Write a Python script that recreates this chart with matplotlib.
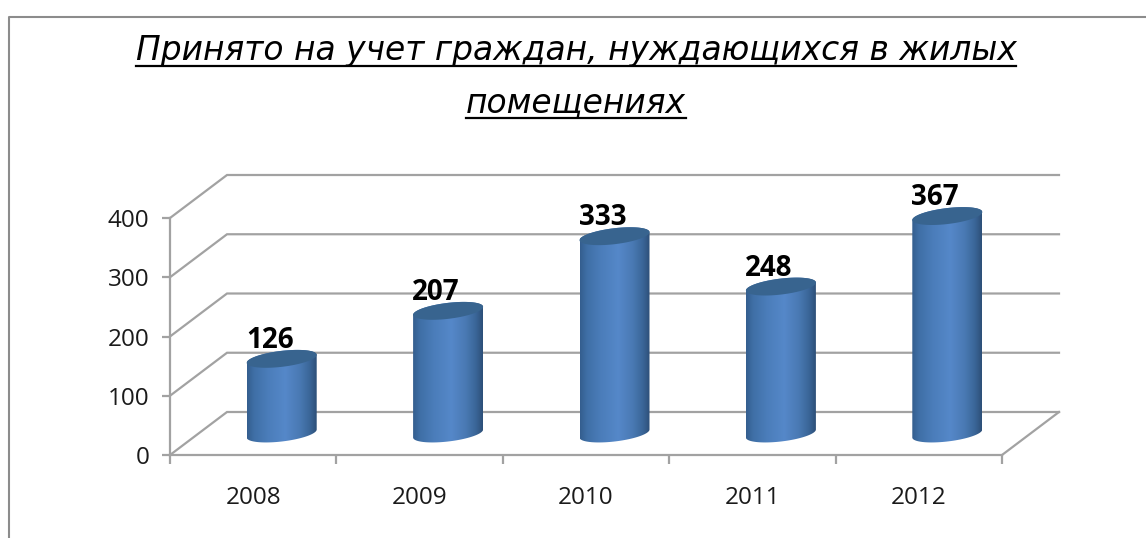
import numpy as np
import matplotlib
matplotlib.use("Agg")
import matplotlib.pyplot as plt
from matplotlib.lines import Line2D
from matplotlib.patches import PathPatch, Polygon
from matplotlib.path import Path
from matplotlib.colors import LinearSegmentedColormap

years = ["2008", "2009", "2010", "2011", "2012"]
values = [126, 207, 333, 248, 367]
y_ticks = [0, 100, 200, 300, 400]
title_lines = ["Принято на учет граждан, нуждающихся в жилых", "помещениях"]

W, H = 1146, 538
X0, Y0 = 170.0, 455.0     # pixel position of the axis origin
PX_X, PX_Y = 166.4, 237 / 400  # pixels per category / per value unit
DEPTH_X, DEPTH_Y = 57.0, 43.0  # oblique depth of the chart floor, pixels
GRID = "#a2a2a2"

fig = plt.figure(figsize=(W / 100, H / 100), dpi=100, facecolor="white")
ax = fig.add_axes([0, 0, 1, 1])
ax.set_facecolor("none")

dx = DEPTH_X / PX_X
dy = DEPTH_Y / PX_Y

# oblique grid and floor
for v in y_ticks:
    ax.plot([0, dx, len(years) + dx], [v, v + dy, v + dy], color=GRID, lw=1.6, zorder=1,
            solid_joinstyle="miter")
ax.plot([len(years), len(years) + dx], [0, dy], color=GRID, lw=1.6, zorder=1)

cmap = LinearSegmentedColormap.from_list(
    "cyl", [(0, "#345e8e"), (0.1, "#3f6fa6"), (0.3, "#4b7dba"), (0.55, "#5588c9"),
            (0.75, "#4a7ab4"), (0.9, "#3a6698"), (1, "#2d4f78")])
grad = np.linspace(0, 1, 256).reshape(1, -1)

A, B, S = 35.0 / PX_X, 8.0 / PX_Y, 4.0 / PX_Y   # cylinder ellipse radii and tilt


def ell(cx, cy, t):
    return cx + A * np.cos(t), cy + B * np.sin(t) + S * np.cos(t)


for i, val in enumerate(values):
    cx = i + 0.5 + dx / 2
    base = dy / 2
    top = val + dy / 2
    # body outline: upper arc of the top, lower arc of the bottom
    tx, ty = ell(cx, top, np.linspace(np.pi, 0, 60))
    bx, by = ell(cx, base, np.linspace(0, -np.pi, 60))
    verts = np.column_stack([np.r_[tx, bx], np.r_[ty, by]])
    img = ax.imshow(grad, cmap=cmap, aspect="auto", zorder=3, interpolation="bilinear",
                    extent=(cx - A, cx + A, base - B - S, top + B + S))
    img.set_clip_path(PathPatch(Path(np.vstack([verts, verts[0]]), closed=True),
                                transform=ax.transData))
    cap_x, cap_y = ell(cx, top, np.linspace(0, 2 * np.pi, 120))
    ax.add_patch(Polygon(np.column_stack([cap_x, cap_y]), closed=True, fc="#38648f",
                         ec="none", zorder=4))
    ax.text(cx - 12 / PX_X, top + 11 / PX_Y, str(val), ha="center", va="baseline",
            fontsize=20, fontweight="bold", family="Open Sans", color="black", zorder=5)

ax.set_xlim(-X0 / PX_X, (W - X0) / PX_X)
ax.set_ylim((Y0 - H) / PX_Y, Y0 / PX_Y)

for s in ("top", "right"):
    ax.spines[s].set_visible(False)
ax.spines["left"].set_position(("data", 0))
ax.spines["bottom"].set_position(("data", 0))
ax.spines["left"].set_bounds(0, 400)
ax.spines["bottom"].set_bounds(0, len(years))
for s in ("left", "bottom"):
    ax.spines[s].set_color(GRID)
    ax.spines[s].set_linewidth(1.6)
    ax.spines[s].set_zorder(2)

ax.set_yticks(y_ticks)
ax.set_yticklabels([str(v) for v in y_ticks], family="Open Sans", fontsize=17.5, color="#1a1a1a")
ax.set_xticks(np.arange(len(years) + 1))
ax.set_xticklabels([""] * (len(years) + 1))
ax.set_xticks(np.arange(len(years)) + 0.5, minor=True)
ax.set_xticklabels(years, minor=True, family="Open Sans", fontsize=17.5, color="#1a1a1a")
ax.tick_params(axis="y", length=5.8, width=1.6, color=GRID, pad=9)
ax.tick_params(axis="x", which="major", length=6.5, width=1.6, color=GRID)
ax.tick_params(axis="x", which="minor", length=0, pad=22.5)

# title, underlined by hand because matplotlib text has no underline
baselines = [60, 112]
underlines = [66, 118]
fig.canvas.draw()
r = fig.canvas.get_renderer()
for line, b, u in zip(title_lines, baselines, underlines):
    t = fig.text(576 / W, 1 - b / H, line, ha="center", va="baseline", fontsize=23.7,
                 style="italic", family="DejaVu Sans", color="black")
    ext = t.get_window_extent(r)
    fig.add_artist(Line2D([ext.x0 / W, ext.x1 / W], [1 - u / H] * 2, color="black", lw=1.6,
                          transform=fig.transFigure))

# chart frame, cropped on the right and at the bottom
fig.add_artist(Line2D([9 / W, 9 / W, 1], [0, 1 - 17 / H, 1 - 17 / H], color="#8c8c8c", lw=1.5,
                      transform=fig.transFigure))

fig.savefig("out.png", dpi=100, facecolor="white")
